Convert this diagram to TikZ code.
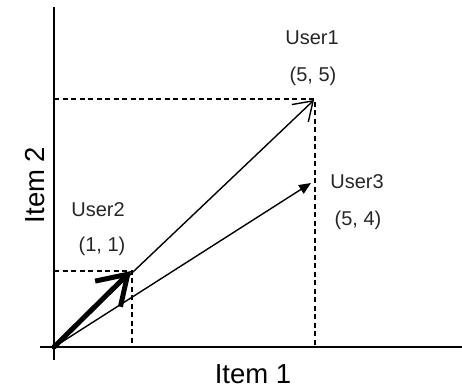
\documentclass[tikz,border=0pt]{standalone}
\usepackage{fontspec}
\setmainfont{Liberation Sans}
\usetikzlibrary{arrows.meta}
\begin{document}
\begin{tikzpicture}[x=1pt,y=-1pt,
  axis/.style={line width=1.8pt},
  guide/.style={line width=1.1pt,dash pattern=on 5pt off 3.5pt},
  vec/.style={line width=1.4pt},
  lbl/.style={font=\fontsize{20}{23}\selectfont,text=black!85,inner sep=0pt},
  axlbl/.style={font=\fontsize{27.5}{31}\selectfont,inner sep=0pt}]
\useasboundingbox (0,0) rectangle (462,388);
\coordinate (O) at (54,347);
\coordinate (ytop) at (54,7);
\coordinate (ybot) at (54,360);
\coordinate (xl) at (40,347);
\coordinate (xr) at (462,347);
\coordinate (U1) at (314,100);
\coordinate (U2) at (131,271);
\coordinate (U3) at (311,183);
\coordinate (U1y) at (54,99);
\coordinate (U1x) at (315,347);
\coordinate (U1c) at (315,99);
\coordinate (U2y) at (54,271);
\coordinate (U2x) at (132,347);
\coordinate (U2c) at (132,271);
% axes
\draw[axis] (ytop) -- (ybot);
\draw[axis] (xl) -- (xr);
% guides
\draw[guide] (U1y) -- (U1c) -- (U1x);
\draw[guide] (U2y) -- (U2c) -- (U2x);
% vectors
\draw[vec,-{Straight Barb[length=18pt,width=24pt,line width=1.4pt]}] (O) -- (U1);
\draw[vec,-{Triangle[length=12pt,width=10pt]}] (O) -- (U3);
\draw[line width=5pt,line cap=round,-{Straight Barb[length=28pt,width=36pt,line width=5pt]}] (O) -- (U2);
% labels
\node[lbl] (l1) at (312,38) {User1};
\node[lbl] (c1) at (313,76) {(5, 5)};
\node[lbl] (l3) at (357,182) {User3};
\node[lbl] (c3) at (358,220) {(5, 4)};
\node[lbl] (l2) at (98,210) {User2};
\node[lbl] (c2) at (102,246) {(1, 1)};
\node[axlbl,rotate=90] (iy) at (35,185) {Item 2};
\node[axlbl] (ix) at (253,374) {Item 1};
\end{tikzpicture}
\end{document}
